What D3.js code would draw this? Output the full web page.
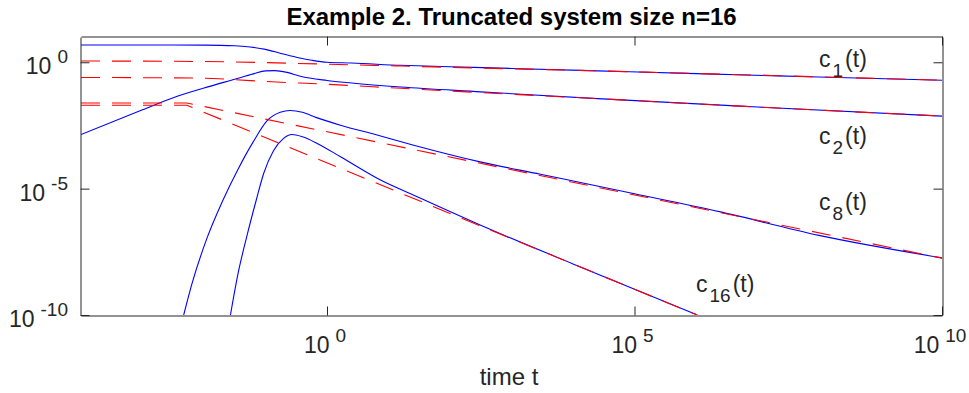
<!DOCTYPE html>
<html>
<head>
<meta charset="utf-8">
<script src="https://cdn.jsdelivr.net/npm/d3@7"></script>
<style>
	body { margin: 0; background: #fff; }
	text { font-family: "Liberation Sans", Arial, Helvetica, sans-serif; fill: #262626; }
</style>
</head>
<body>
<div id="view"></div>
<script>
var width = 969, height = 393;

// 値は log10 で持つ [log10 t, log10 c]
var c1Exact = [[-4,0.684],[-2.5,0.684],[-2,0.68],[-1.5,0.655],[-1.25,0.605],[-1,0.51],[-0.75,0.35],[-0.5,0.2],[-0.25,0.08],[0,0.0],[0.4,-0.03],[1.2,-0.12],[2,-0.175],[3,-0.244],[4.4,-0.34],[6,-0.45],[8,-0.58],[10,-0.71]];
var c2Exact = [[-4,-2.86],[-3,-1.88],[-2.5,-1.4],[-2,-1.02],[-1.5,-0.67],[-1.2,-0.46],[-1,-0.34],[-0.85,-0.33],[-0.65,-0.40],[-0.434,-0.553],[0,-0.72],[0.4,-0.82],[1.2,-0.98],[2.5,-1.17],[4.4,-1.44],[7,-1.77],[10,-2.13]];
var c8Exact = [[-2.33,-10],[-2.2,-8.8],[-1.95,-6.95],[-1.7,-5.5],[-1.44,-4.2],[-1.2,-3.15],[-0.976,-2.32],[-0.76,-1.98],[-0.6,-1.91],[-0.4,-1.98],[-0.17,-2.19],[0.22,-2.49],[0.8,-2.87],[1.41,-3.28],[2.49,-3.94],[3.47,-4.43],[5,-5.2],[6.4,-5.92],[8,-6.85],[10,-7.74]];
var c16Exact = [[-1.57,-10],[-1.45,-8.4],[-1.3,-6.85],[-1.15,-5.45],[-1.03,-4.4],[-0.87,-3.5],[-0.71,-3.02],[-0.57,-2.86],[-0.4,-2.95],[-0.16,-3.21],[0.22,-3.74],[0.87,-4.66],[1.41,-5.26],[2.49,-6.44],[4,-7.98],[6,-9.98]];

// 漸近近似（赤の破線）
var c1Approx = [[-4,0.05],[-2,0.03],[0,-0.075],[1.2,-0.15],[2.5,-0.23],[4.4,-0.34],[7,-0.51],[10,-0.71]];
var c2Approx = [[-4,-0.6],[-2,-0.63],[-1.5,-0.69],[-1,-0.76],[0,-0.87],[1.2,-1.03],[2.5,-1.2],[4.4,-1.44],[7,-1.77],[10,-2.13]];
var c8Approx = [[-4,-1.61],[-2.28,-1.61],[10,-7.75]];
var c16Approx = [[-4,-1.70],[-2.28,-1.70],[6.3,-10.28]];

var xTicks = [0, 5, 10];
var yTicks = [-10, -5, 0];
var curveLabels = [
	{ sub: "1", t: 10, c: -0.18 },
	{ sub: "2", t: 10, c: -3.25 },
	{ sub: "8", t: 10, c: -5.85 },
	{ sub: "16", t: 6, c: -9.1 }
];

// プロット領域の端 (window.top と被らない名前にする)
var pLeft = 81, pRight = 942, pTop = 37, pBottom = 315;

var svg = d3.select("#view").append("svg")
	.attr("width", width)
	.attr("height", height);

var x = d3.scaleLog().domain([1e-4, 1e10]).range([pLeft, pRight]);
var y = d3.scaleLog().domain([1e-10, 10]).range([pBottom, pTop]);

svg.append("clipPath").attr("id", "clip")
	.append("rect")
	.attr("x", pLeft).attr("y", pTop)
	.attr("width", pRight - pLeft).attr("height", pBottom - pTop);

function pt(d) { return [x(Math.pow(10, d[0])), y(Math.pow(10, d[1]))]; }

var smooth = d3.line()
	.x(function(d) { return pt(d)[0]; })
	.y(function(d) { return pt(d)[1]; })
	.curve(d3.curveMonotoneX);
var straight = d3.line()
	.x(function(d) { return pt(d)[0]; })
	.y(function(d) { return pt(d)[1]; });

var plot = svg.append("g").attr("clip-path", "url(#clip)");

// 青: 厳密解
[c1Exact, c2Exact, c8Exact, c16Exact].forEach(function(s) {
	plot.append("path")
		.attr("d", smooth(s))
		.style("fill", "none")
		.style("stroke", "#0000ff")
		.style("stroke-width", 1.1);
});

// 赤: 近似（破線）
[[c1Approx, smooth], [c2Approx, smooth], [c8Approx, straight], [c16Approx, straight]].forEach(function(s) {
	plot.append("path")
		.attr("d", s[1](s[0]))
		.style("fill", "none")
		.style("stroke", "#ff0000")
		.style("stroke-width", 1.1)
		.style("stroke-dasharray", "19,12");
});

// 軸（内向き目盛り、上と右にも）
var tickVals = xTicks.map(function(e) { return Math.pow(10, e); });
var yVals = yTicks.map(function(e) { return Math.pow(10, e); });

svg.append("g").attr("transform", "translate(0," + (pBottom + 0.5) + ")")
	.call(d3.axisBottom(x).tickValues(tickVals).tickSize(-9).tickSizeOuter(0).tickFormat(""));
svg.append("g").attr("transform", "translate(0," + (pTop - 0.5) + ")")
	.call(d3.axisTop(x).tickValues(tickVals).tickSize(-9).tickSizeOuter(0).tickFormat(""));
svg.append("g").attr("transform", "translate(" + (pLeft - 0.5) + ",0)")
	.call(d3.axisLeft(y).tickValues(yVals).tickSize(-9).tickSizeOuter(0).tickFormat(""));
svg.append("g").attr("transform", "translate(" + (pRight + 0.5) + ",0)")
	.call(d3.axisRight(y).tickValues(yVals).tickSize(-9).tickSizeOuter(0).tickFormat(""));

svg.selectAll(".domain, .tick line")
	.style("stroke", "#262626")
	.style("stroke-width", 1);

// 目盛りラベル 10^n
xTicks.forEach(function(e) {
	var t = svg.append("text")
		.attr("x", x(Math.pow(10, e)) - 2)
		.attr("y", 353)
		.attr("text-anchor", "middle")
		.style("font-size", "23px");
	t.append("tspan").text("10");
	t.append("tspan").attr("dx", 6).attr("dy", -11).style("font-size", "19px").text(e);
});
yTicks.forEach(function(e) {
	var t = svg.append("text")
		.attr("x", 68)
		.attr("y", y(Math.pow(10, e)) + 12)
		.attr("text-anchor", "end")
		.style("font-size", "23px");
	t.append("tspan").text("10");
	t.append("tspan").attr("dx", 6).attr("dy", -11).style("font-size", "19px").text(e);
});

// 曲線ラベル c_k(t)
curveLabels.forEach(function(d) {
	var t = svg.append("text")
		.attr("x", d.sub === "16" ? 696 : 819)
		.attr("y", y(Math.pow(10, d.c)))
		.style("font-size", "23px");
	t.append("tspan").text("c");
	t.append("tspan").attr("dx", 2).attr("dy", 10).style("font-size", "19px").text(d.sub);
	t.append("tspan").attr("dx", 2).attr("dy", -10).text("(t)");
});

// タイトルと軸名
svg.append("text")
	.attr("x", (pLeft + pRight) / 2)
	.attr("y", 25)
	.attr("text-anchor", "middle")
	.style("font-size", "24px")
	.style("font-weight", "bold")
	.style("fill", "#000")
	.text("Example 2. Truncated system size n=16");

svg.append("text")
	.attr("x", 509)
	.attr("y", 385)
	.attr("text-anchor", "middle")
	.style("font-size", "24px")
	.text("time t");
</script>
</body>
</html>
